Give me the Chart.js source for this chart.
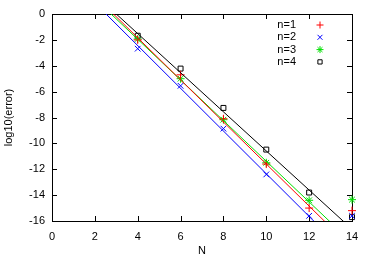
<!DOCTYPE html>
<html>
<head>
<meta charset="utf-8">
<script src="https://cdn.jsdelivr.net/npm/chart.js@4"></script>
<style>
  html, body { margin: 0; padding: 0; background: #fff; }
  #wrap { width: 374px; height: 261px; }
</style>
</head>
<body>
<div id="wrap"><canvas id="c" width="374" height="261"></canvas></div>
<script>
// measured errors, log10
var nValues = [4, 6, 8, 10, 12, 14];
var err1 = [-2.0, -4.7, -8.1, -11.6, -15.0, -15.2];
var err2 = [-2.68, -5.55, -8.86, -12.4, -15.6, -15.6];
var err3 = [-1.93, -5.0, -8.17, -11.5, -14.4, -14.35];
var err4 = [-1.68, -4.22, -7.26, -10.48, -13.8, -15.7];

// fitted lines, two end points each
var fitX = [2, 14];
var fit1 = [1.41, -18.10];
var fit2 = [0.86, -18.95];
var fit3 = [1.19, -17.67];
var fit4 = [1.51, -16.63];

var labels = ["n=1", "n=2", "n=3", "n=4"];
var colors = ["#ff0000", "#0000ff", "#00e000", "#000000"];
var styles = ["cross", "crossRot", "star", "rect"];

var FONT = "'Liberation Sans', Arial, sans-serif";

function pts(xs, ys) {
  var out = [];
  for (var i = 0; i < xs.length; i++) out.push({ x: xs[i], y: ys[i] });
  return out;
}

var errs = [err1, err2, err3, err4];
var fits = [fit1, fit2, fit3, fit4];
var datasets = [];
for (let i = 0; i < 4; i++) {
  datasets.push({
    label: labels[i] + " fit",
    data: pts(fitX, fits[i]),
    showLine: true,
    borderColor: colors[i],
    borderWidth: 1,
    pointRadius: 0,
  });
}
for (let i = 0; i < 4; i++) {
  datasets.push({
    label: labels[i],
    data: pts(nValues, errs[i]),
    showLine: false,
    clip: false,
    borderColor: colors[i],
    backgroundColor: "rgba(0,0,0,0)",
    borderWidth: 1,
    pointStyle: styles[i],
    pointRadius: i == 3 ? 3.5 : 4,
  });
}

// frame with inward ticks (gnuplot style) + legend in the top right
var frame = {
  id: "frame",
  beforeDatasetsDraw(chart) {
    var ctx = chart.ctx;
    var a = chart.chartArea;
    var xs = chart.scales.x, ys = chart.scales.y;
    ctx.save();
    ctx.strokeStyle = "#000";
    ctx.lineWidth = 1;
    ctx.strokeRect(a.left + 0.5, a.top + 0.5, a.right - a.left, a.bottom - a.top);
    ctx.beginPath();
    xs.ticks.forEach((t) => {
      var px = Math.round(xs.getPixelForValue(t.value)) + 0.5;
      ctx.moveTo(px, a.bottom); ctx.lineTo(px, a.bottom - 5);
      ctx.moveTo(px, a.top); ctx.lineTo(px, a.top + 5);
    });
    ys.ticks.forEach((t) => {
      var py = Math.round(ys.getPixelForValue(t.value)) + 0.5;
      ctx.moveTo(a.left, py); ctx.lineTo(a.left + 5, py);
      ctx.moveTo(a.right, py); ctx.lineTo(a.right - 5, py);
    });
    ctx.stroke();

    // legend
    ctx.font = "11px " + FONT;
    ctx.textAlign = "right";
    ctx.textBaseline = "middle";
    for (let i = 0; i < 4; i++) {
      var y = 25 + i * 12.3;
      ctx.fillStyle = "#000";
      ctx.fillText(labels[i], 296, y);
      ctx.strokeStyle = colors[i];
      ctx.fillStyle = "rgba(0,0,0,0)";
      ctx.lineWidth = 1;
      Chart.helpers.drawPoint(ctx, {
        pointStyle: styles[i],
        radius: i == 3 ? 3 : 3.5,
        rotation: 0,
        borderWidth: 1,
      }, 320, y);
    }
    ctx.restore();
  },
};

new Chart(document.getElementById("c"), {
  type: "scatter",
  data: { datasets: datasets },
  options: {
    responsive: false,
    animation: false,
    events: [],
    layout: { padding: { left: 0, top: 14, right: 22, bottom: 0 } },
    plugins: { legend: { display: false }, tooltip: { enabled: false } },
    scales: {
      x: {
        type: "linear",
        min: 0,
        max: 14,
        afterFit: (s) => { s.height = 40; },
        grid: { display: false, drawTicks: false },
        border: { display: false },
        ticks: { stepSize: 2, padding: 9, color: "#000", font: { family: FONT, size: 11 }, maxRotation: 0 },
        title: { display: true, text: "N", color: "#000", font: { family: FONT, size: 11 }, padding: { top: 0, bottom: 3 } },
      },
      y: {
        type: "linear",
        min: -16,
        max: 0,
        afterFit: (s) => { s.width = 52; },
        grid: { display: false, drawTicks: false },
        border: { display: false },
        ticks: { stepSize: 2, padding: 7, color: "#000", font: { family: FONT, size: 11 } },
        title: { display: true, text: "log10(error)", color: "#000", font: { family: FONT, size: 11 }, padding: { top: 2, bottom: 0 } },
      },
    },
  },
  plugins: [frame],
});
</script>
</body>
</html>
